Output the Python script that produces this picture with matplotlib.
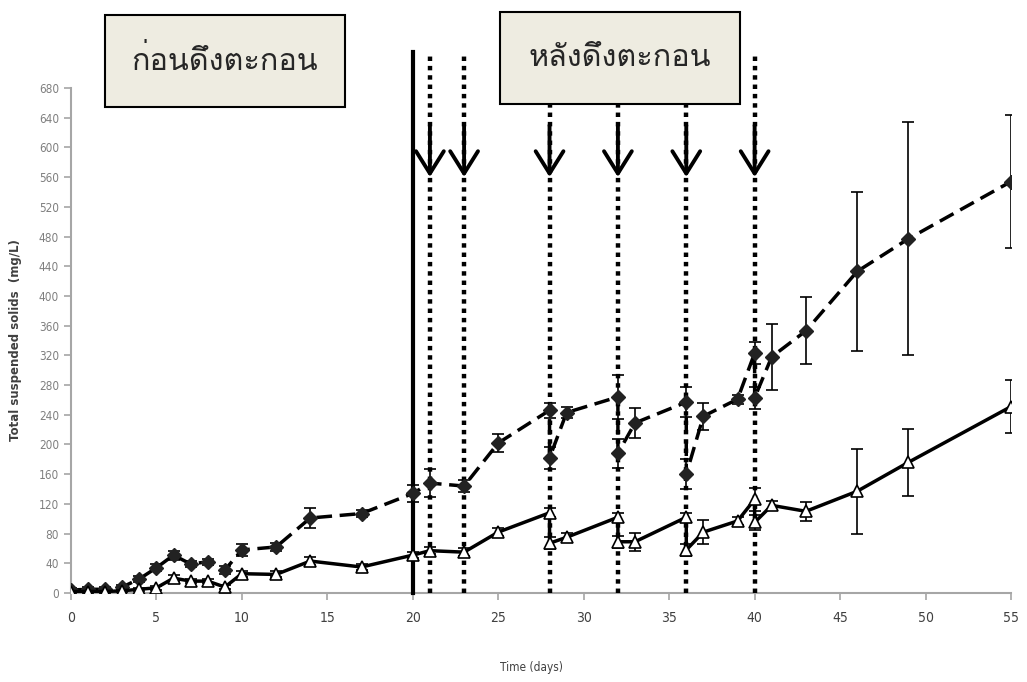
import numpy as np
import matplotlib
matplotlib.use("Agg")
import matplotlib.pyplot as plt
from matplotlib import font_manager as fm
from matplotlib.ft2font import FT2Font
from matplotlib.patches import Rectangle

# ---------------- data ----------------
days_before = [0, 1, 2, 3, 4, 5, 6, 7, 8, 9, 10, 12, 14, 17, 20, 21, 23, 25,
               28, 28, 29, 32, 32, 33, 36, 36, 37, 39, 40, 40, 41, 43, 46, 49, 55]
tss_dashed = [4, 5, 5, 8, 19, 34, 51, 39, 42, 31, 58, 62, 101, 107, 134, 148, 144, 202,
              246, 182, 243, 264, 188, 229, 257, 160, 238, 261, 323, 263, 318, 353, 433, 477, 554]
err_dashed = [3, 3, 3, 3, 4, 5, 6, 4, 4, 5, 8, 6, 14, 5, 12, 19, 8, 12,
              10, 15, 8, 30, 20, 20, 20, 20, 18, 6, 15, 15, 44, 45, 107, 157, 90]
tss_solid = [2, 2, 2, 3, 5, 7, 20, 16, 16, 8, 26, 25, 43, 35, 51, 57, 55, 82,
             108, 67, 75, 102, 69, 69, 102, 58, 82, 97, 126, 95, 118, 110, 137, 176, 251]
err_solid = [2, 2, 2, 2, 2, 3, 4, 3, 3, 3, 4, 4, 5, 4, 4, 5, 5, 5,
             6, 8, 6, 6, 8, 12, 6, 8, 16, 6, 15, 10, 6, 13, 57, 45, 36]

harvest_start = 20
harvest_days = [21, 23, 28, 32, 36, 40]
label_before = "ก่อนดึงตะกอน"
label_after = "หลังดึงตะกอน"


def find_thai_font():
    # look for any installed font that actually has Thai glyphs
    for f in fm.fontManager.ttflist:
        try:
            cmap = FT2Font(f.fname).get_charmap()
        except Exception:
            continue
        if 0x0E01 in cmap and 0x0E14 in cmap and 0x0E2D in cmap:
            return f.name
    return "DejaVu Sans"


thai_font = find_thai_font()
narrow = ["Liberation Sans Narrow", "DejaVu Sans"]

fig = plt.figure(figsize=(10.27, 6.82), dpi=100)
ax = fig.add_axes([71 / 1027, 1 - 593 / 682, 940 / 1027, 505 / 682])

# dashed series, filled diamonds
ax.errorbar(days_before, tss_dashed, yerr=err_dashed, color="black", ls=(0, (4.5, 2.2)),
            lw=2.5, marker="D", ms=7.5, mfc="#222222", mec="#222222",
            elinewidth=1.2, capsize=4.5, capthick=1.2, zorder=4)
# solid series, open triangles
ax.errorbar(days_before, tss_solid, yerr=err_solid, color="black", ls="-",
            lw=2.5, marker="^", ms=8, mfc="white", mec="black", mew=1.2,
            elinewidth=1.2, capsize=4.5, capthick=1.2, zorder=4)

# harvest markers
top_y = 728
ax.plot([harvest_start, harvest_start], [0, top_y], color="black", lw=3,
        clip_on=False, zorder=3)
for d in harvest_days:
    ax.plot([d, d], [0, top_y], color="black", lw=3.2, ls=(0, (1, 1.1)),
            clip_on=False, zorder=3)
    ax.annotate("", xy=(d, 560), xytext=(d, 630),
                arrowprops=dict(arrowstyle="->,head_length=0.8,head_width=0.5",
                                lw=2.8, color="black", mutation_scale=20,
                                shrinkA=0, shrinkB=0), zorder=5)

ax.set_xlim(0, 55)
ax.set_ylim(0, 680)
ax.set_xticks(np.arange(0, 56, 5))
ax.set_yticks(np.arange(0, 681, 40))

for s in ["top", "right"]:
    ax.spines[s].set_visible(False)
for s in ["left", "bottom"]:
    ax.spines[s].set_color("#a6a6a6")
    ax.spines[s].set_linewidth(1.5)
ax.tick_params(axis="both", direction="out", color="#a6a6a6", length=5, width=1.2)
ax.tick_params(axis="y", labelsize=8.5, labelcolor="#7f7f7f")
ax.tick_params(axis="x", labelsize=10, labelcolor="#404040", pad=8)
for lab in ax.get_xticklabels() + ax.get_yticklabels():
    lab.set_family(narrow)
    lab.set_stretch("condensed")

ax.set_ylabel("Total suspended solids  (mg/L)", fontsize=8.5, color="#404040",
              fontweight="bold", family=narrow, labelpad=12)
fig.text(531 / 1027, 1 - 668 / 682, "Time (days)", ha="center", va="center",
         fontsize=8.5, color="#404040", family=narrow, stretch="condensed")

# the two label boxes
for (x0, y0, txt) in [(105, 107, label_before), (500, 104, label_after)]:
    rect = Rectangle((x0 / 1027, 1 - y0 / 682), 240 / 1027, 92 / 682,
                     transform=fig.transFigure, facecolor="#EEECE1",
                     edgecolor="black", lw=1.5, zorder=10)
    fig.add_artist(rect)
    fig.text((x0 + 120) / 1027, 1 - (y0 - 46) / 682, txt, ha="center", va="center",
             fontsize=22, color="#262626", family=[thai_font, "DejaVu Sans"], zorder=11)

fig.savefig("out.png", dpi=100)
